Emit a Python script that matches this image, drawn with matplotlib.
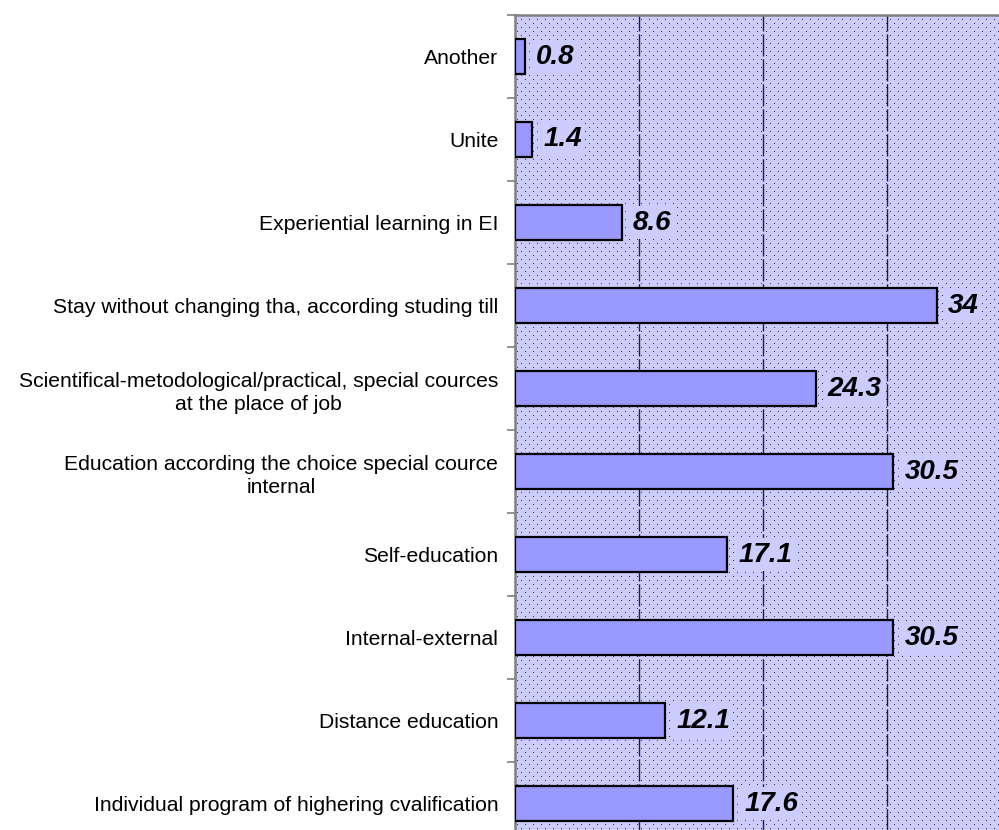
import numpy as np
import matplotlib
matplotlib.use("Agg")
import matplotlib.pyplot as plt

categories = ["Another", "Unite", "Experiential learning in EI",
              "Stay without changing tha, according studing till",
              "Scientifical-metodological/practical, special cources\nat the place of job",
              "Education according the choice special cource\ninternal",
              "Self-education", "Internal-external", "Distance education",
              "Individual program of highering cvalification"]
values = [0.8, 1.4, 8.6, 34, 24.3, 30.5, 17.1, 30.5, 12.1, 17.6]
value_labels = ["0.8", "1.4", "8.6", "34", "24.3", "30.5", "17.1", "30.5", "12.1", "17.6"]

plt.rcParams['font.family'] = ['Liberation Sans', 'DejaVu Sans']

W, H = 999, 830
fig = plt.figure(figsize=(W / 100, H / 100), dpi=100)
ax = fig.add_axes([515 / W, -15 / H, 496 / W, 830 / H])

# dotted background texture (pixel aligned)
aw, ah = 496, 830
yy, xx = np.mgrid[0:ah, 0:aw]
dots = (yy % 4 == 1) & ((xx + 4 * ((yy // 4) % 2)) % 8 == 2)
img = np.zeros((ah, aw, 3))
img[:] = np.array([204, 204, 255]) / 255
img[dots] = np.array([45, 45, 100]) / 255
ax.imshow(img, extent=(0, 40, 9.5, -0.5), aspect="auto",
          interpolation="nearest", zorder=0)

y = np.arange(len(categories))
ax.barh(y, values, height=0.41, color="#9999FF", edgecolor="black",
        linewidth=1.6, zorder=3)

for yi, v, lab in zip(y, values, value_labels):
    ax.annotate(lab, (v, yi), xytext=(8, 0), textcoords="offset points",
                va="center", ha="left", fontsize=20, fontweight="bold",
                fontstyle="italic", zorder=4,
                bbox=dict(facecolor="#CCCCFF", edgecolor="none", pad=2.5))

for gx in [10, 20, 30]:
    ax.axvline(gx, color="#222222", linewidth=1, linestyle=(0, (16, 2)), zorder=1)

ax.set_xlim(0, 40)
ax.set_ylim(9.5, -0.5)
ax.set_yticks(y)
ax.set_yticklabels(categories, fontsize=15.2, multialignment="center",
                   linespacing=1.3)
ax.tick_params(axis="y", which="major", length=0, pad=12)
ax.set_yticks(np.arange(-0.5, 10, 1), minor=True)
ax.tick_params(axis="y", which="minor", length=6, color="#808080", width=1.2)
ax.set_xticks([])
for s in ["top", "left"]:
    ax.spines[s].set_color("#808080")
    ax.spines[s].set_linewidth(1.8)
ax.spines["right"].set_visible(False)
ax.spines["bottom"].set_visible(False)

fig.savefig("out.png", dpi=100)
